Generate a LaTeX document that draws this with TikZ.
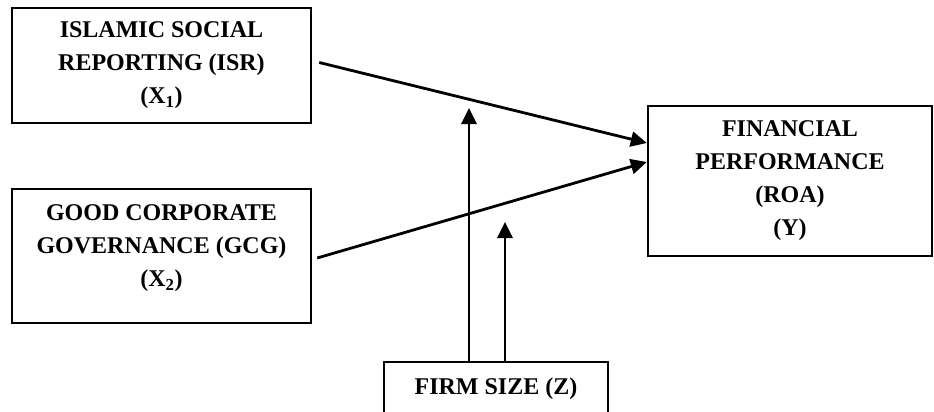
\documentclass[tikz,border=0pt]{standalone}
\usepackage{fontspec}
\setmainfont{Liberation Serif}
\usetikzlibrary{arrows.meta,calc}
\begin{document}
\begin{tikzpicture}[x=1pt,y=-1pt,
 box/.style={draw, line width=2.4pt, inner sep=0pt, align=center, font=\fontsize{24}{33}\selectfont\bfseries},
 txt/.style={align=center, inner sep=0pt, font=\fontsize{24}{33}\selectfont\bfseries},
 conn/.style={line width=2.8pt, -{Triangle[length=16pt,width=15pt]}}]
\path[use as bounding box] (0,0) rectangle (934,412);
\clip (0,0) rectangle (934,412);
\fill[white] (0,0) rectangle (934,412);
\node[box, minimum width=299, minimum height=115] (x1) at (161.5,65.5)
  {ISLAMIC SOCIAL\\REPORTING (ISR)\\(X\textsubscript{1})};
\node[box, minimum width=299, minimum height=134] (x2) at (161.5,256) {};
\node[txt] (x2t) at (161.5,248) {GOOD CORPORATE\\GOVERNANCE (GCG)\\(X\textsubscript{2})};
\node[box, minimum width=284, minimum height=150] (y) at (790,181)
  {FINANCIAL\\PERFORMANCE\\(ROA)\\(Y)};
\node[box, minimum width=224, minimum height=53] (z) at (496,388.5) {FIRM SIZE (Z)};
\coordinate (m1) at (469,108);
\coordinate (m2) at (505,222);
\draw[conn] ($(x1.east)+(7,-3)$) -- ($(y.west)+(0,-38)$);
\draw[conn] ($(x2.east)+(5,2)$) -- ($(y.west)+(0,-19)$);
\draw[conn] (z.north -| m1) -- (m1);
\draw[conn] (z.north -| m2) -- (m2);
\end{tikzpicture}
\end{document}
